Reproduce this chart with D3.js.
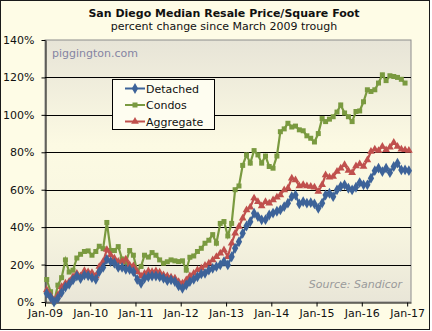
<!DOCTYPE html>
<html>
<head>
<meta charset="utf-8">
<script src="https://cdn.jsdelivr.net/npm/d3@7"></script>
<style>
  body { margin: 0; background: #fff; }
  svg { display: block; font-family: "DejaVu Sans", Verdana, sans-serif; }
</style>
</head>
<body>
<svg width="432" height="331"></svg>
<script>
// monthly, Jan-09 .. Jan-17, percent change since Mar-09
var detached = [4.6, 2.5, 0, 2, 5, 8, 9.5, 11.8, 13.9, 12.5, 14.4, 14, 13, 12.1, 16.2, 18.5, 22.8, 21.6, 20.7, 18.5,
  18.5, 17.5, 17.3, 16.2, 12, 10, 12.7, 13.5, 13.9, 13.9, 13.5, 12.7, 11.4, 11.8, 10.9, 8.6, 7.3, 9.1, 10.9, 12.1,
  13.5, 15, 15.3, 17, 18, 18.9, 19.8, 21.6, 19.8, 24.2, 28.7, 32.2, 36.7, 40.6, 42.9, 47.4, 45.6, 43.9, 44, 46.5,
  47.5, 48.5, 49.2, 51, 52.8, 56.3, 57.2, 52.4, 53.6, 52.8, 53.1, 52.4, 50.1, 52.8, 57.2, 58.1, 56.3, 59.9, 61.7, 62.6,
  60.8, 59.9, 61.3, 63.8, 62.6, 62.6, 66.1, 70.2, 71.5, 69.7, 71.5, 69.1, 72.4, 74.2, 70.6, 70.6, 70.2];
var condos = [12, 5.5, 0, 9, 13, 22.5, 16, 17, 23.5, 25.5, 27, 27.3, 25, 27, 29.8, 28.5, 42.5, 27.5, 27.5, 29.6,
  23, 21, 27.5, 25, 16.5, 19, 25, 24, 26.4, 25, 22.5, 20.7, 21.5, 22.5, 22, 21.6, 22, 17, 23.9, 24.6,
  27, 28.7, 31.4, 33, 36, 31.4, 42, 43, 35.3, 42, 60, 62, 73, 78.6, 74.2, 80.9, 78.6, 74.2, 78, 72.4,
  71.5, 78, 91, 92.5, 95.5, 93.5, 94, 92, 91.5, 88.8, 87.5, 85.5, 90, 98, 96.4, 97.7, 99, 101.5, 105.3,
  101, 99, 96.4, 101.8, 102.1, 107, 113.4, 112.5, 113.4, 117, 121.4, 118.3, 120.9, 120.5, 120, 119, 117];
var aggregate = [6.4, 3.5, 0.5, 3.7, 8.2, 10, 11, 13.5, 15.3, 13.9, 16.7, 16, 15.7, 13.9, 18.9, 21.6, 28, 25.1, 23.4, 21.6,
  21.6, 22.8, 19.8, 19.3, 16.2, 13.9, 15.3, 16.6, 16.2, 16.6, 15.9, 14.4, 13.9, 13.2, 12.7, 10.9, 10, 11.8, 13.9, 15.3,
  17.1, 18, 19.5, 20.7, 22.5, 24.2, 26, 27.8, 24.2, 31.4, 36.7, 40.3, 44.8, 49.2, 50.6, 55.5, 53.6, 51.3, 53.6, 52.8,
  54.5, 56, 57.2, 59.9, 60.8, 66.1, 65.2, 62, 62.6, 62, 61.7, 61.3, 59, 62.6, 67.9, 66.7, 67, 69.7, 71.5, 73.3,
  70.2, 69.1, 72.7, 73.8, 72.4, 75.9, 80.4, 81.6, 80.9, 83.1, 81.3, 82.7, 85.2, 83.1, 81.6, 81.3, 81];
var seriesNames = ["Detached", "Condos", "Aggregate"];
var yTicks = [0, 20, 40, 60, 80, 100, 120, 140];

var svg = d3.select("svg");
var margin = {left: 45, right: 411, top: 40, bottom: 302};

var months = detached.map(function(d, i) { return new Date(2009, i, 15); });

var x = d3.scaleTime()
    .domain([new Date(2009, 0, 1), new Date(2017, 1, 1)])
    .range([margin.left, margin.right]);
var y = d3.scaleLinear()
    .domain([0, 140])
    .range([margin.bottom, margin.top]);

// page background + frame
svg.append("rect").attr("x", 0.5).attr("y", 0.5).attr("width", 429).attr("height", 329)
    .attr("fill", "#fefce6").attr("stroke", "#1a1a1a");

var defs = svg.append("defs");
var grad = defs.append("linearGradient").attr("id", "plotbg")
    .attr("x1", 0).attr("y1", 0).attr("x2", 0).attr("y2", 1);
grad.append("stop").attr("offset", "0%").attr("stop-color", "#e7e4d7");
grad.append("stop").attr("offset", "40%").attr("stop-color", "#fcfae3");
grad.append("stop").attr("offset", "70%").attr("stop-color", "#f8f6e0");
grad.append("stop").attr("offset", "100%").attr("stop-color", "#e9e6d8");

svg.append("rect")
    .attr("x", margin.left).attr("y", margin.top)
    .attr("width", margin.right - margin.left).attr("height", margin.bottom - margin.top)
    .attr("fill", "url(#plotbg)").attr("stroke", "#8c8c8c");

// gridlines
svg.append("g").selectAll("line")
    .data(yTicks.filter(function(d) { return d > 0 && d < 140; }))
    .enter().append("line")
      .attr("x1", margin.left).attr("x2", margin.right)
      .attr("y1", d => Math.round(y(d)) + 0.5).attr("y2", d => Math.round(y(d)) + 0.5)
      .attr("stroke", "#000");

// titles
svg.append("text").attr("x", 224).attr("y", 17).attr("text-anchor", "middle")
    .attr("font-size", 11).attr("font-weight", "bold").attr("fill", "#111")
    .text("San Diego Median Resale Price/Square Foot");
svg.append("text").attr("x", 224).attr("y", 30).attr("text-anchor", "middle")
    .attr("font-size", 11).attr("fill", "#111")
    .text("percent change since March 2009 trough");
svg.append("text").attr("x", 52).attr("y", 57)
    .attr("font-size", 11).attr("fill", "#8585a3")
    .text("piggington.com");
svg.append("text").attr("x", 402).attr("y", 288).attr("text-anchor", "end")
    .attr("font-size", 11).attr("font-style", "italic").attr("fill", "#9a9a9a")
    .text("Source: Sandicor");

// axes
var yAxis = svg.append("g")
    .attr("transform", "translate(" + (margin.left + 0.5) + ",0)")
    .call(d3.axisLeft(y).tickValues(yTicks).tickSize(4).tickPadding(7)
      .tickFormat(d => d + "%").tickSizeOuter(0));
var xAxis = svg.append("g")
    .attr("transform", "translate(0," + (margin.bottom + 0.5) + ")")
    .call(d3.axisBottom(x).ticks(d3.timeYear.every(1)).tickSize(4).tickPadding(3)
      .tickFormat(d3.timeFormat("%b-%y")).tickSizeOuter(0));
svg.selectAll(".tick text").attr("font-size", 11).attr("font-family", "DejaVu Sans, Verdana, sans-serif").attr("fill", "#111");
svg.selectAll(".domain, .tick line").attr("stroke", "#000");

// series
var series = [
  {name: seriesNames[0], values: detached, color: "#3d6399", symbol: d3.symbolDiamond, size: 34},
  {name: seriesNames[1], values: condos, color: "#7a9a40", symbol: d3.symbolSquare, size: 25},
  {name: seriesNames[2], values: aggregate, color: "#c0504d", symbol: d3.symbolTriangle, size: 26}
];
var drawOrder = [series[1], series[2], series[0]];

var line = d3.line()
    .x((d, i) => x(months[i]))
    .y(d => y(d));

drawOrder.forEach(function(s) {
  svg.append("path")
      .datum(s.values)
      .attr("fill", "none")
      .attr("stroke", s.color)
      .attr("stroke-width", 2.2)
      .attr("d", line);
  svg.append("g").selectAll("path")
    .data(s.values)
    .enter().append("path")
      .attr("transform", (d, i) => "translate(" + x(months[i]) + "," + y(d) + ")")
      .attr("d", d3.symbol().type(s.symbol).size(s.size))
      .attr("fill", s.color);
});

// legend
var legend = svg.append("g");
legend.append("rect").attr("x", 112.5).attr("y", 79.5).attr("width", 102).attr("height", 50)
    .attr("fill", "#fefdf0").attr("stroke", "#000");
var item = legend.selectAll(".item")
    .data(series)
    .enter().append("g")
      .attr("class", "item")
      .attr("transform", (d, i) => "translate(0," + (88.5 + i * 16.5) + ")");
item.append("line").attr("x1", 125).attr("x2", 145)
    .attr("stroke", d => d.color).attr("stroke-width", 2);
item.append("path")
    .attr("transform", "translate(135,0)")
    .attr("d", d => d3.symbol().type(d.symbol).size(d.size)())
    .attr("fill", d => d.color);
item.append("text").attr("x", 146).attr("y", 4)
    .attr("font-size", 11).attr("fill", "#111")
    .text(d => d.name);
</script>
</body>
</html>
